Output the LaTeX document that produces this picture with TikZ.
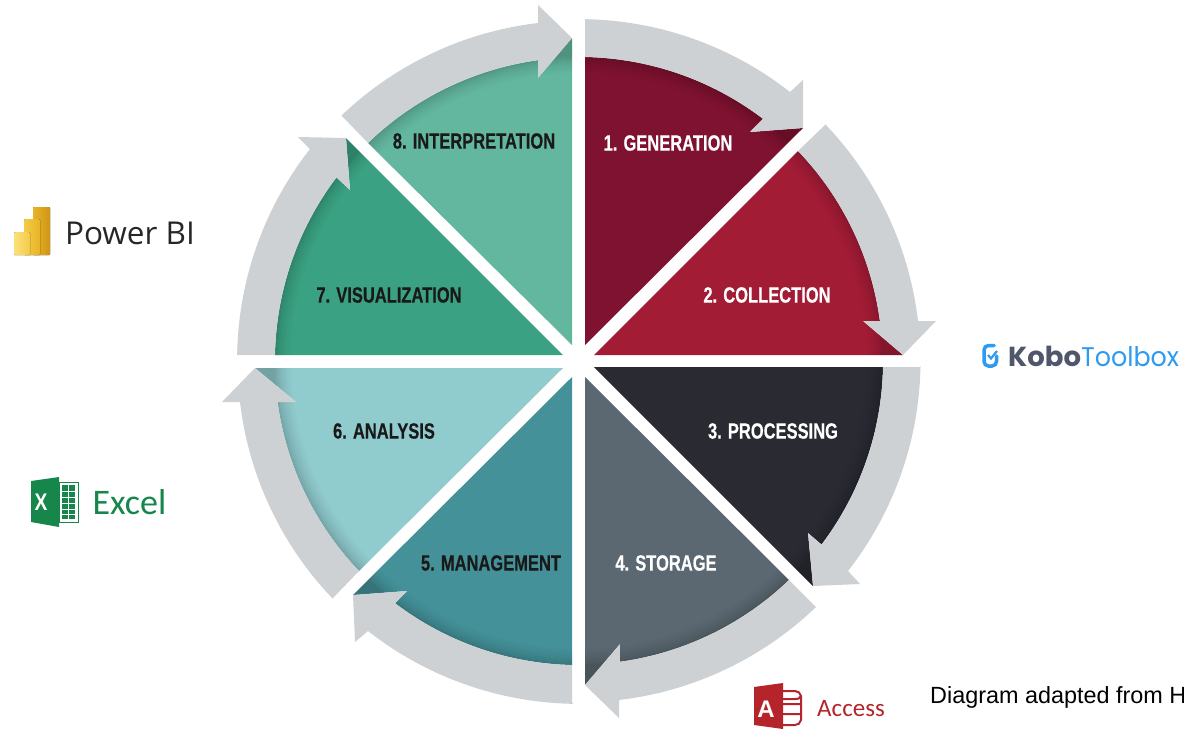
\documentclass[tikz,border=0pt]{standalone}
\usepackage{fontspec}
\setmainfont{Liberation Sans}
\newfontfamily\stagefont[FakeStretch=0.75,BoldFeatures={FakeBold=0.4}]{Liberation Sans}
\newfontfamily\toolfont{Open Sans}
\newfontfamily\officefont{Carlito}
\newfontfamily\kobofont{Poppins}
\newfontfamily\toolboxfont[FakeStretch=0.94]{Poppins}
\usepackage{tikz}
\definecolor{ringgray}{HTML}{CDD1D4}
\definecolor{genred}{HTML}{7F1230}
\definecolor{colred}{HTML}{A31C36}
\definecolor{procblack}{HTML}{2A2A33}
\definecolor{storgray}{HTML}{5B6871}
\definecolor{mantteal}{HTML}{449199}
\definecolor{anacyan}{HTML}{90CBCE}
\definecolor{visgreen}{HTML}{3AA282}
\definecolor{intgreen}{HTML}{63B79F}
\definecolor{xlgreen}{HTML}{17864B}
\definecolor{accred}{HTML}{B5242A}
\definecolor{koboblue}{HTML}{2E9BF0}
\definecolor{kobogray}{HTML}{50566B}
\definecolor{pbilight}{HTML}{FBE07A}
\definecolor{pbimid}{HTML}{F4CB46}
\definecolor{pbideep}{HTML}{E8B428}
\definecolor{pbidark}{HTML}{CF9516}
\begin{document}
\begin{tikzpicture}[x=1pt,y=-1pt,
    wedge/.style={fill=#1,path picture={
        \foreach \r/\o in {303/.17,301/.13,299/.1,297/.08,295/.06,293/.04,291/.025,289/.012}
          {\draw[black,opacity=\o,line width=2pt] (hub) circle[radius=\r];}
        \draw[black,opacity=.2,line width=24pt] (hub) circle[radius=316];}},
    ringarrow/.style={fill=ringgray},
    stage/.style={font=\stagefont\bfseries\fontsize{22}{22}\selectfont},
    light/.style={stage,text=white},
    dark/.style={stage,text=black!90}]
\useasboundingbox (0,0) rectangle (1184,729);
\coordinate (hub) at (579,361);
\path[wedge=genred] (585,345) -- (585,57) arc[start angle=-88.9,end angle=-52.8,radius=304] -- (750,132) -- (803,128) -- cycle;
\path[wedge=colred] (594,355) -- (798,151) arc[start angle=-43.8,end angle=-7.6,radius=304] -- (863,321) -- (903,355) -- cycle;
\path[wedge=procblack] (594,367) -- (883,367) arc[start angle=1.1,end angle=37.1,radius=304] -- (808,533) -- (813,586) -- cycle;
\path[wedge=storgray] (585,377) -- (789,580) arc[start angle=46.2,end angle=82.2,radius=304] -- (620,644) -- (585,685) -- cycle;
\path[wedge=mantteal] (572,377) -- (572,665) arc[start angle=91.3,end angle=127.2,radius=304] -- (407,591) -- (353,595) -- cycle;
\path[wedge=anacyan] (563,368) -- (359,571) arc[start angle=136.3,end angle=172.2,radius=304] -- (296,402) -- (255,368) -- cycle;
\path[wedge=visgreen] (563,355) -- (275,355) arc[start angle=181.1,end angle=217.1,radius=304] -- (350,190) -- (346,138) -- cycle;
\path[wedge=intgreen] (572,345) -- (368,143) arc[start angle=225.9,end angle=262.2,radius=304] -- (538,78) -- (572,38) -- cycle;
\fill[ringarrow] (585,20) -- (585,57) arc[start angle=-88.9,end angle=-52.8,radius=304] -- (750,132) -- (803,128) -- (803,80) -- (790,92) arc[start angle=-51.9,end angle=-89,radius=342] -- cycle;
\fill[ringarrow] (825,125) -- (798,151) arc[start angle=-43.8,end angle=-7.6,radius=304] -- (863,321) -- (903,355) -- (936,321) -- (918,321) arc[start angle=-6.7,end angle=-43.8,radius=342] -- cycle;
\fill[ringarrow] (921,367) -- (883,367) arc[start angle=1.1,end angle=37.1,radius=304] -- (808,533) -- (813,586) -- (860,584) -- (848,571) arc[start angle=38,end angle=1,radius=342] -- cycle;
\fill[ringarrow] (816,607) -- (789,580) arc[start angle=46.2,end angle=82.2,radius=304] -- (620,644) -- (585,685) -- (619,718) -- (619,700) arc[start angle=83.3,end angle=46.2,radius=342] -- cycle;
\fill[ringarrow] (572,702) -- (572,665) arc[start angle=91.3,end angle=127.2,radius=304] -- (407,591) -- (353,595) -- (355,642) -- (368,631) arc[start angle=128.1,end angle=91,radius=342] -- cycle;
\fill[ringarrow] (333,598) -- (359,571) arc[start angle=136.3,end angle=172.2,radius=304] -- (296,402) -- (255,368) -- (222,402) -- (240,402) arc[start angle=173.3,end angle=136.2,radius=342] -- cycle;
\fill[ringarrow] (237,355) -- (275,355) arc[start angle=181.1,end angle=217.1,radius=304] -- (350,190) -- (346,138) -- (298,137) -- (310,149) arc[start angle=218.1,end angle=181,radius=342] -- cycle;
\fill[ringarrow] (342,116) -- (368,143) arc[start angle=225.9,end angle=262.2,radius=304] -- (538,78) -- (572,38) -- (538,5) -- (538,23) arc[start angle=263.3,end angle=226.2,radius=342] -- cycle;
\node[light] (generation) at (668,143) {1. GENERATION};
\node[light] (collection) at (767,295) {2. COLLECTION};
\node[light] (processing) at (773,431) {3. PROCESSING};
\node[light] (storage) at (666,563) {4. STORAGE};
\node[dark] (management) at (491,563) {5. MANAGEMENT};
\node[dark] (analysis) at (384,431) {6. ANALYSIS};
\node[dark] (visualization) at (389,295) {7. VISUALIZATION};
\node[dark] (interpretation) at (474,141) {8. INTERPRETATION};
% Power BI
\fill[left color=pbideep,right color=pbidark,rounded corners=1pt] (33,207) rectangle (50,255);
\fill[left color=pbimid,right color=pbideep,rounded corners=1pt] (24,219) rectangle (40,255);
\fill[left color=pbilight,right color=pbimid,rounded corners=1pt] (14,232) rectangle (30,255);
\node[font=\toolfont\fontsize{31.5}{32}\selectfont,text=black!85] (powerbi) at (130,233) {Power BI};
% Excel
\draw[xlgreen,fill=white,line width=1pt] (59,482) rectangle (78,522);
\fill[xlgreen] (62,485) rectangle (75,519);
\draw[white,line width=1pt] (68,485) -- (68,519) (62,491) -- (75,491) (62,497) -- (75,497) (62,503) -- (75,503) (62,509) -- (75,509) (62,514) -- (75,514);
\fill[xlgreen] (31,481) -- (59,477) -- (59,527) -- (31,522) -- cycle;
\node[xscale=0.8,font=\bfseries\fontsize{24}{24}\selectfont,text=white] (excelx) at (41,502) {X};
\node[font=\officefont\fontsize{36}{36}\selectfont,text=xlgreen] (excel) at (129.5,502) {Excel};
% Kobo
\draw[koboblue,line width=3.5pt,line cap=round,rounded corners=4.5pt] (994,345.5) -- (984,345.5) -- (984,366) -- (996.5,366) -- (996.5,356);
\draw[koboblue,line width=2.2pt] (988,355) -- (991,358.5) -- (997,351);
\node[anchor=base west,inner sep=0pt] (kobo) at (1008,366.5) {{\kobofont\bfseries\fontsize{27.5}{28}\selectfont\color{kobogray}Kobo}{\toolboxfont\fontsize{27}{28}\selectfont\color{koboblue}Toolbox}};
% Access
\fill[accred] (754,687) -- (783,683) -- (783,729) -- (754,725) -- cycle;
\draw[accred,line width=2pt] (783,691) -- (795,691) to[bend left=40] (801,696) -- (801,720) to[bend left=40] (795,725) -- (783,725) (783,704) -- (801,704) (783,714) -- (801,714) (801,696) to[bend left=40] (795,699) -- (783,699);
\node[font=\bfseries\fontsize{24}{24}\selectfont,text=white] (accessa) at (766,709) {A};
\node[font=\officefont\fontsize{25}{25}\selectfont,text=accred] (access) at (851,709) {Access};
\node[anchor=base west,inner sep=0pt,font=\fontsize{23.4}{23.4}\selectfont,text=black] (credit) at (930,703) {Diagram adapted from H};
\end{tikzpicture}
\end{document}
